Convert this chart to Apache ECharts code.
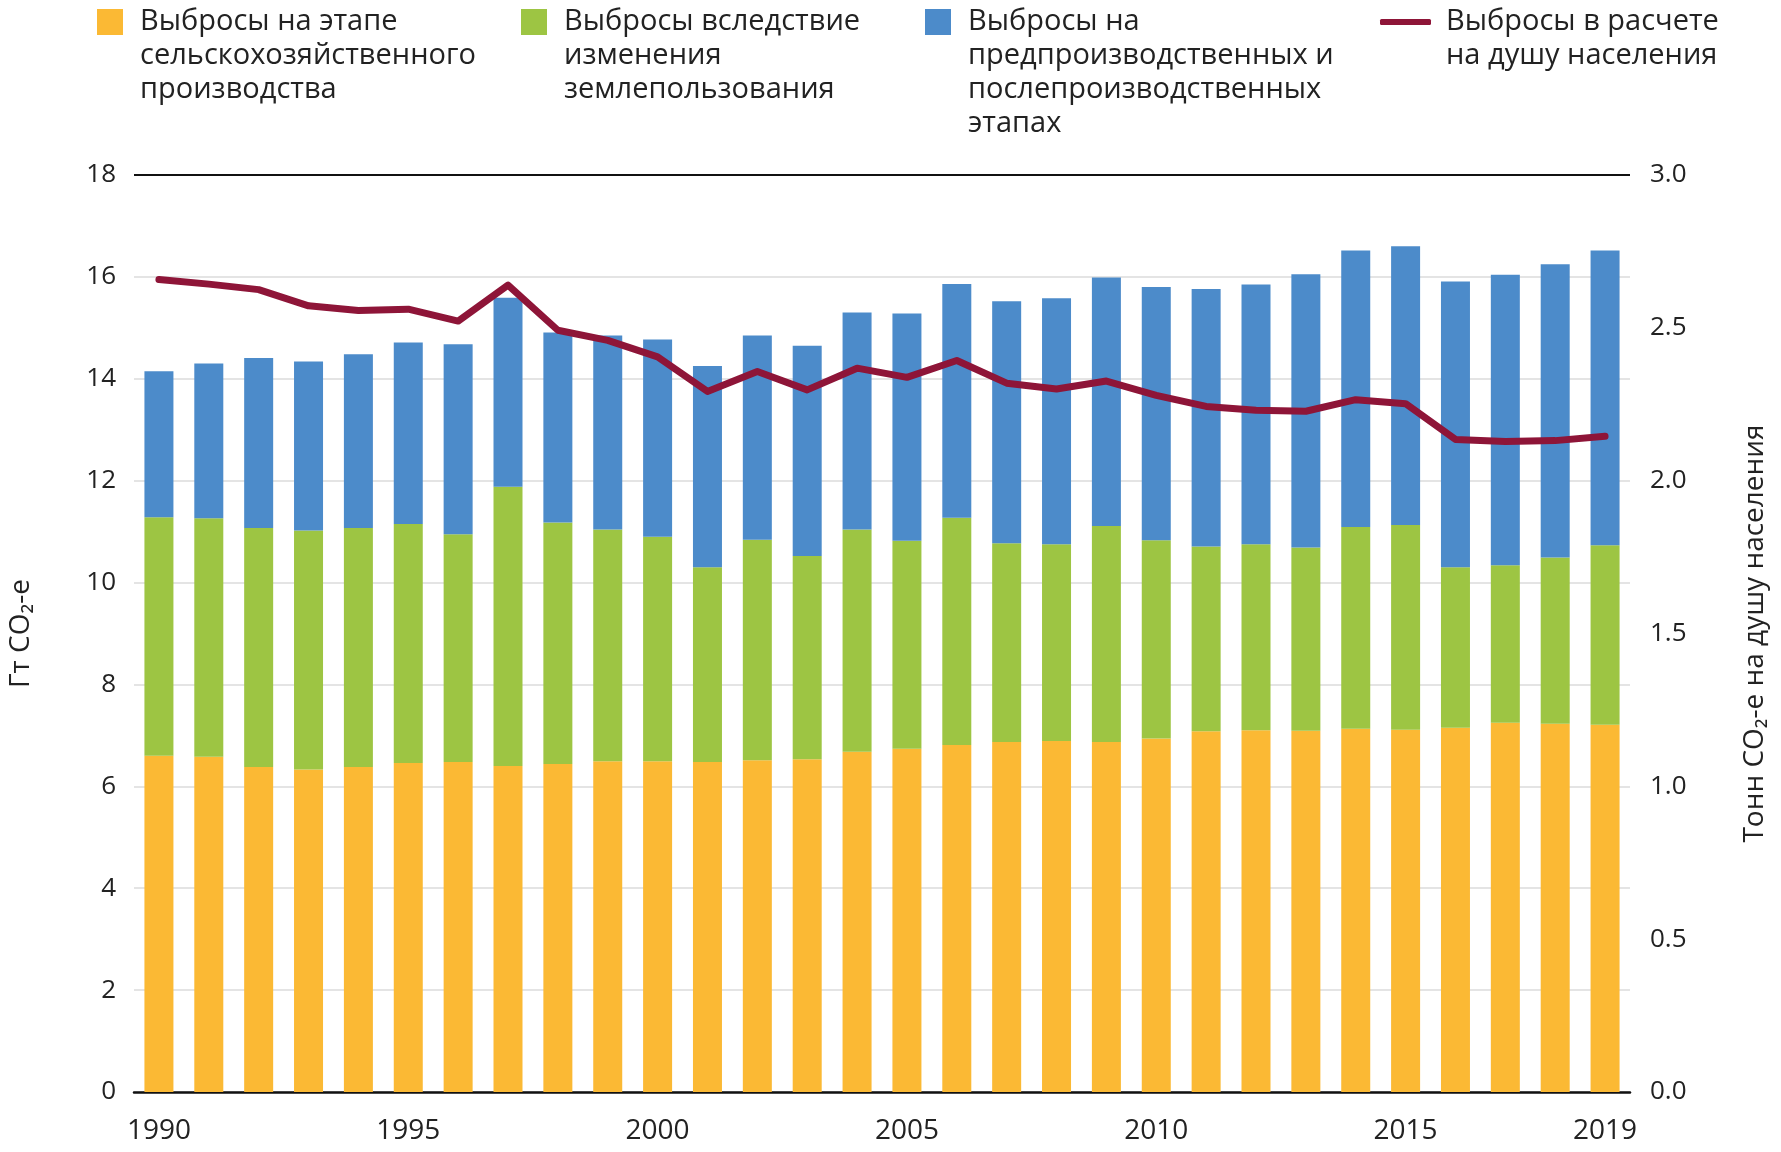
<!DOCTYPE html>
<html>
<head>
<meta charset="utf-8">
<script src="https://cdn.jsdelivr.net/npm/echarts@6/dist/echarts.min.js"></script>
<style>
html,body{margin:0;padding:0;background:#fff;}
#c{width:1781px;height:1152px;}
</style>
</head>
<body>
<div id="c"></div>
<script>
var years = ['1990','1991','1992','1993','1994','1995','1996','1997','1998','1999','2000','2001','2002','2003','2004','2005','2006','2007','2008','2009','2010','2011','2012','2013','2014','2015','2016','2017','2018','2019'];
var farmGate = [6.60,6.58,6.38,6.33,6.38,6.46,6.48,6.40,6.44,6.49,6.49,6.48,6.51,6.53,6.68,6.74,6.81,6.87,6.89,6.87,6.94,7.08,7.10,7.09,7.13,7.11,7.15,7.25,7.23,7.21];
var landUse = [4.68,4.68,4.69,4.69,4.69,4.69,4.47,5.48,4.74,4.55,4.41,3.82,4.33,3.99,4.36,4.08,4.46,3.90,3.86,4.24,3.89,3.63,3.65,3.60,3.96,4.02,3.15,3.09,3.26,3.52];
var prePost = [2.87,3.04,3.34,3.32,3.41,3.56,3.73,3.71,3.73,3.81,3.87,3.95,4.01,4.13,4.26,4.46,4.59,4.75,4.83,4.88,4.97,5.05,5.10,5.36,5.43,5.47,5.61,5.70,5.76,5.79];
var perCapita = [2.658,2.643,2.625,2.572,2.557,2.561,2.522,2.640,2.492,2.459,2.405,2.292,2.357,2.297,2.368,2.338,2.393,2.319,2.300,2.326,2.279,2.243,2.230,2.227,2.265,2.252,2.135,2.128,2.131,2.145];
var leftTicks = [0,2,4,6,8,10,12,14,16,18];
var rightTicks = [0,0.5,1,1.5,2,2.5,3];

var names = [
  'Выбросы на этапе\nсельскохозяйственного\nпроизводства',
  'Выбросы вследствие\nизменения\nземлепользования',
  'Выбросы на\nпредпроизводственных и\nпослепроизводственных\nэтапах',
  'Выбросы в расчете\nна душу населения'
];
var colors = ['#FBB934','#9DC543','#4C8BCA','#8E1538'];
var FONT = '"Open Sans"';
var LH = 34;

function legendFor(i, left, top, opts){
  return {
    show:true, orient:'horizontal', left:left, top:top, padding:0,
    data:[{name:names[i], icon: opts.icon || 'rect'}],
    itemWidth: opts.w || 26, itemHeight: opts.h || 26,
    selectedMode:false,
    formatter:function(name){
      var n = name.split('\n').length;
      var pre = '';
      for (var k=0;k<n-1;k++) pre += '\n';
      return pre + name;
    },
    textStyle:{fontFamily:FONT,fontSize:29,color:'#222',lineHeight:LH,
      padding:[0,0,0,opts.pl||12]}
  };
}

var chart = echarts.init(document.getElementById('c'));
var gridColors = ['#e4e4e4','#e4e4e4','#e4e4e4','#e4e4e4','#e4e4e4','#e4e4e4','#e4e4e4','#e4e4e4','#e4e4e4','#111'];
chart.setOption({
  animation:false,
  backgroundColor:'#fff',
  legend:[
    legendFor(0, 97, -63, {}),
    legendFor(1, 521, -63, {}),
    legendFor(2, 925, -97, {}),
    legendFor(3, 1380, -29, {icon:'roundRect', w:51, h:6, pl:10})
  ],
  grid:{left:134,right:151,top:175,bottom:60,containLabel:false,outerBoundsMode:'none'},
  xAxis:{
    type:'category', data:years, boundaryGap:true,
    axisLine:{show:true,lineStyle:{color:'#111',width:2.5}},
    axisTick:{show:false},
    axisLabel:{fontFamily:FONT,fontSize:28,color:'#222',margin:25,
      interval:function(idx){return idx%5===0 || idx===years.length-1;}}
  },
  yAxis:[
    {type:'value',min:leftTicks[0],max:leftTicks[leftTicks.length-1],interval:2,
     name:'Гт CO₂-e',nameLocation:'middle',nameGap:99,nameRotate:90,
     nameTextStyle:{fontFamily:FONT,fontSize:28,color:'#222'},
     axisLine:{show:false},axisTick:{show:false},
     axisLabel:{fontFamily:FONT,fontSize:26,color:'#222',margin:18},
     splitLine:{show:true,lineStyle:{color:gridColors,width:2}}},
    {type:'value',min:rightTicks[0],max:rightTicks[rightTicks.length-1],interval:0.5,
     position:'right',
     name:'Тонн CO₂-е на душу населения',nameLocation:'middle',nameGap:111,nameRotate:90,
     nameTextStyle:{fontFamily:FONT,fontSize:28,color:'#222'},
     axisLine:{show:false},axisTick:{show:false},
     axisLabel:{fontFamily:FONT,fontSize:26,color:'#222',margin:20,
       formatter:function(v){return v.toFixed(1);}},
     splitLine:{show:false}}
  ],
  series:[
    {name:names[0],type:'bar',stack:'s',data:farmGate,barWidth:29,itemStyle:{color:colors[0]}},
    {name:names[1],type:'bar',stack:'s',data:landUse,barWidth:29,itemStyle:{color:colors[1]}},
    {name:names[2],type:'bar',stack:'s',data:prePost,barWidth:29,itemStyle:{color:colors[2]}},
    {name:names[3],type:'line',yAxisIndex:1,data:perCapita,symbol:'none',
     lineStyle:{color:colors[3],width:7,cap:'round',join:'round'},itemStyle:{color:colors[3]},z:5}
  ]
});
</script>
</body>
</html>
